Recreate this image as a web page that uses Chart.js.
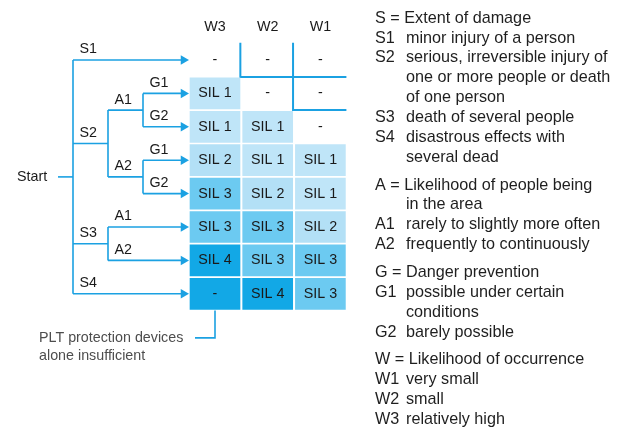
<!DOCTYPE html>
<html>
<head>
<meta charset="utf-8">
<script src="https://cdn.jsdelivr.net/npm/chart.js@4"></script>
<style>
  body { margin: 0; background: #fff; }
  #wrap { position: relative; width: 620px; height: 438px; }
</style>
</head>
<body>
<div id="wrap"><canvas id="riskGraph"></canvas></div>
<script>
// W columns of the matrix, left to right
const columns = ['W3', 'W2', 'W1'];

// level per row (top to bottom) and column: 0 = none, 1..4 = SIL, 5 = PLT devices insufficient
const silLevels = [
  [0, 0, 0],
  [1, 0, 0],
  [1, 1, 0],
  [2, 1, 1],
  [3, 2, 1],
  [3, 3, 2],
  [4, 3, 3],
  [5, 4, 3],
];
const levelText = ['-', 'SIL 1', 'SIL 2', 'SIL 3', 'SIL 4', '-'];
const levelColors = ['rgba(0,0,0,0)', '#bfe5f8', '#b3e0f6', '#6ccaf1', '#12a8e6', '#12a8e6'];

// decision tree, leaves point at a matrix row
const tree = {
  label: 'Start',
  children: [
    { label: 'S1', row: 0 },
    { label: 'S2', children: [
      { label: 'A1', children: [{ label: 'G1', row: 1 }, { label: 'G2', row: 2 }] },
      { label: 'A2', children: [{ label: 'G1', row: 3 }, { label: 'G2', row: 4 }] },
    ] },
    { label: 'S3', children: [{ label: 'A1', row: 5 }, { label: 'A2', row: 6 }] },
    { label: 'S4', row: 7 },
  ],
};

const noteLines = ['PLT protection devices', 'alone insufficient'];

// legend text on the right: [code, text lines]
const legendGroups = [
  { head: ['S = Extent of damage'], items: [
    ['S1', ['minor injury of a person']],
    ['S2', ['serious, irreversible injury of', 'one or more people or death', 'of one person']],
    ['S3', ['death of several people']],
    ['S4', ['disastrous effects with', 'several dead']],
  ] },
  { head: ['A = Likelihood of people being', 'in the area'], items: [
    ['A1', ['rarely to slightly more often']],
    ['A2', ['frequently to continuously']],
  ] },
  { head: ['G = Danger prevention'], items: [
    ['G1', ['possible under certain', 'conditions']],
    ['G2', ['barely possible']],
  ] },
  { head: ['W = Likelihood of occurrence'], items: [
    ['W1', ['very small']],
    ['W2', ['small']],
    ['W3', ['relatively high']],
  ] },
];

// layout
const ROW0 = 60, ROW_PX = 33.4;          // y axis is in row units
const COL0 = 215, COL_PITCH = 52.7;
const CELL_W = 50, CELL_H = 0.464;
const SPLIT_X = [73, 108, 143];
const START_X = 58, ARROW_X = 183.5;
const BLUE = '#1ba1e2';
const FONT = '"Liberation Sans", Arial, sans-serif';

const colX = i => COL0 + i * COL_PITCH;

// build tree segments
const segments = [];
const labels = [];
const arrows = [];
function nodeRow(n) {
  if (n.children) {
    const ys = n.children.map(nodeRow);
    n.y = (ys[0] + ys[ys.length - 1]) / 2;
  } else {
    n.y = n.row;
  }
  return n.y;
}
nodeRow(tree);
function walk(n, depth) {
  if (depth > 0) {
    const x0 = SPLIT_X[depth - 1];
    const x1 = n.children ? SPLIT_X[depth] : ARROW_X;
    segments.push([{ x: x0, y: n.y }, { x: x1, y: n.y }]);
    labels.push({ text: n.label, x: x0 + 6.5, y: n.y });
    if (!n.children) arrows.push({ x: ARROW_X, y: n.y });
  } else {
    segments.push([{ x: START_X, y: n.y }, { x: SPLIT_X[0], y: n.y }]);
  }
  if (n.children) {
    const first = n.children[0], last = n.children[n.children.length - 1];
    segments.push([{ x: SPLIT_X[depth], y: first.y }, { x: SPLIT_X[depth], y: last.y }]);
    n.children.forEach(c => walk(c, depth + 1));
  }
}
walk(tree, 0);

const rightEdge = colX(2) + CELL_W / 2 + 1;
const edgeX = c => (colX(c - 1) + colX(c)) / 2 - 1;
const stairs = [
  [{ x: edgeX(1), y: -0.52 }, { x: edgeX(1), y: 0.51 }, { x: rightEdge, y: 0.51 }],
  [{ x: edgeX(2), y: -0.52 }, { x: edgeX(2), y: 1.5 }, { x: rightEdge, y: 1.5 }],
];
const noteLine = [{ x: colX(0), y: 7.5 }, { x: colX(0), y: 8.32 }, { x: 195, y: 8.32 }];

const cells = [];
const cellColors = [];
silLevels.forEach((row, r) => row.forEach((lv, c) => {
  cells.push({ x: colX(c), y: [r - CELL_H, r + CELL_H] });
  cellColors.push(levelColors[lv]);
}));

const lineSet = (pts, w) => ({
  type: 'scatter', data: pts, showLine: true, borderColor: BLUE, borderWidth: w,
  pointRadius: 0, fill: false, clip: false, tension: 0,
});

const datasets = [
  { type: 'bar', data: cells, backgroundColor: cellColors, barThickness: CELL_W, borderWidth: 0, clip: false },
  ...segments.map(s => lineSet(s, 1.6)),
  ...stairs.map(s => lineSet(s, 2)),
  lineSet(noteLine, 1.6),
  { type: 'scatter', data: arrows, pointStyle: 'triangle', rotation: 90, pointRadius: 5.5,
    backgroundColor: BLUE, borderColor: BLUE, borderWidth: 0, clip: false },
];

const textPlugin = {
  id: 'texts',
  afterDatasetsDraw(chart) {
    const { ctx, scales: { x, y } } = chart;
    const px = v => y.getPixelForValue(v);
    ctx.save();
    ctx.textBaseline = 'middle';

    // matrix text
    ctx.font = '14.3px ' + FONT;
    ctx.fillStyle = '#1a1a1a';
    ctx.textAlign = 'center';
    columns.forEach((c, i) => ctx.fillText(c, x.getPixelForValue(colX(i)), px(-1)));
    silLevels.forEach((row, r) => row.forEach((lv, c) => {
      ctx.fillText(levelText[lv], x.getPixelForValue(colX(c)), px(r));
    }));

    // tree labels
    ctx.textAlign = 'left';
    labels.forEach(l => ctx.fillText(l.text, x.getPixelForValue(l.x), px(l.y) - 10.5));
    ctx.fillText(tree.label, x.getPixelForValue(17), px(tree.y));

    // note
    ctx.fillStyle = '#4d4d4d';
    noteLines.forEach((t, i) => ctx.fillText(t, x.getPixelForValue(39), px(8.32) + i * 18));

    // legend on the right
    ctx.fillStyle = '#1f1f1f';
    ctx.font = '16.2px ' + FONT;
    const codeX = x.getPixelForValue(375), textX = x.getPixelForValue(406);
    let ty = 18.3;
    legendGroups.forEach((g, gi) => {
      if (gi > 0) ty += 8;
      g.head.forEach((t, i) => { ctx.fillText(t, i ? textX : codeX, ty); ty += 19.85; });
      g.items.forEach(([code, lines]) => {
        ctx.fillText(code, codeX, ty);
        lines.forEach(t => { ctx.fillText(t, textX, ty); ty += 19.85; });
      });
    });
    ctx.restore();
  },
};

new Chart(document.getElementById('riskGraph'), {
  type: 'scatter',
  data: { datasets },
  options: {
    responsive: true,
    maintainAspectRatio: false,
    animation: false,
    layout: { padding: 0, autoPadding: false },
    plugins: { legend: { display: false }, tooltip: { enabled: false } },
    scales: {
      x: { type: 'linear', display: false, min: 0, max: 620, offset: false },
      y: { type: 'linear', display: false, reverse: true, offset: false,
           min: -ROW0 / ROW_PX, max: (438 - ROW0) / ROW_PX },
    },
  },
  plugins: [textPlugin],
});
</script>
</body>
</html>
